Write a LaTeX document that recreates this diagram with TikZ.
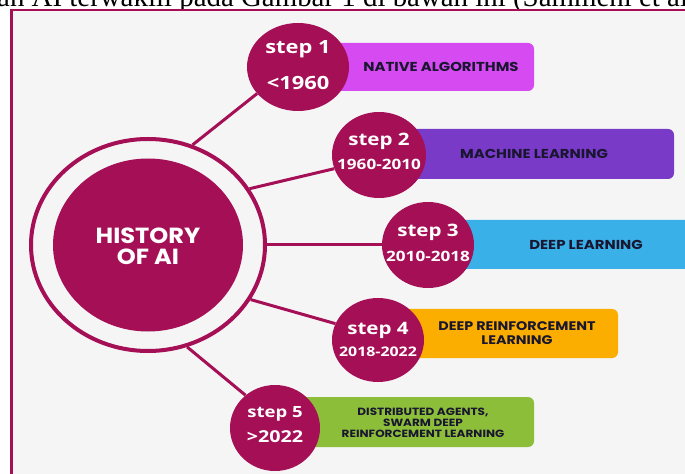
\documentclass[tikz,border=0pt]{standalone}
\usepackage{fontspec}
\setmainfont{Liberation Serif}
\newfontfamily\popfont[FakeStretch=1.15]{Poppins}
\newfontfamily\hubfont[FakeStretch=1.1]{Poppins}
\newfontfamily\stepfont[FakeStretch=1.2]{Open Sans}
\usetikzlibrary{shapes.geometric}

\definecolor{plum}{RGB}{165,15,85}
\definecolor{paper}{RGB}{245,245,246}
\definecolor{ink}{RGB}{25,22,48}
\definecolor{violetbox}{RGB}{214,74,242}
\definecolor{purplebox}{RGB}{122,58,200}
\definecolor{bluebox}{RGB}{58,176,232}
\definecolor{orangebox}{RGB}{252,174,0}
\definecolor{greenbox}{RGB}{140,190,58}

\tikzset{
  stepdisc/.style={ellipse, fill=plum, inner sep=0pt, minimum width=#1},
  stepword/.style={text=white, font=\stepfont\bfseries\fontsize{#1}{#1}\selectfont, inner sep=0pt},
  stepword/.default=17,
  eraband/.style={fill=#1, rounded corners=6bp},
  eralabel/.style={text=ink, font=\popfont\bfseries\fontsize{13}{13}\selectfont, align=center, inner sep=0pt},
  spoke/.style={draw=plum, line width=3bp},
}

\begin{document}
\begin{tikzpicture}[x=1bp, y=-1bp]
\useasboundingbox (0,0) rectangle (685,474);
\clip (0,0) rectangle (685,474);

% running text of the page above the figure
\node[anchor=base west, inner sep=0pt, font=\fontsize{29}{29}\selectfont] (caption) at (-3,6.5)
  {an AI terwakili pada Gambar 1 di bawah ini (Sammeni et al.};

% panel and its frame
\fill[paper] (12,11) rectangle (690,480);
\draw[plum, line width=3.5bp] (11.5,10) -- (11.5,480);
\draw[plum, line width=2bp] (10,10.5) -- (690,10.5);

% coloured bands behind the step discs
\fill[eraband=violetbox] (330,43) rectangle (534,91);
\fill[eraband=purplebox] (400,129) rectangle (674,179);
\fill[eraband=bluebox] (450,220) rectangle (700,269);
\fill[eraband=orangebox] (400,309) rectangle (618,358);
\fill[eraband=greenbox] (300,397) rectangle (534,447);

\node[eralabel] (l1) at (441,67) {NATIVE ALGORITHMS};
\node[eralabel] (l2) at (534,154) {MACHINE LEARNING};
\node[eralabel] (l3) at (586,245) {DEEP LEARNING};
\node[eralabel, font=\popfont\bfseries\fontsize{12.5}{14}\selectfont] (l4) at (517,333)
  {DEEP REINFORCEMENT\\LEARNING};
\node[eralabel, font=\popfont\bfseries\fontsize{10.5}{11}\selectfont] (l5) at (423,423)
  {DISTRIBUTED AGENTS,\\SWARM DEEP\\REINFORCEMENT LEARNING};

% central hub
\node[ellipse, draw=plum, fill=paper, line width=4bp, minimum width=234bp, minimum height=212bp] (ring) at (148,245) {};
\node[ellipse, fill=plum, minimum width=190bp, minimum height=173bp] (hub) at (148,245) {};
\node[text=white, font=\hubfont\bfseries\fontsize{22}{21}\selectfont, align=center, inner sep=0pt] (hubtext) at (148,246.5)
  {HISTORY\\OF AI};

% step discs
\node[stepdisc=102bp, minimum height=88bp] (s1) at (298,67) {};
\node[stepdisc=94bp, minimum height=86bp] (s2) at (379,155) {};
\node[stepdisc=92bp, minimum height=86bp] (s3) at (428,245) {};
\node[stepdisc=92bp, minimum height=84bp] (s4) at (378,340) {};
\node[stepdisc=90bp, minimum height=86bp] (s5) at (275,428) {};

% spokes from the hub ring to each step disc
\draw[spoke] (ring.66) -- (s1.213);
\draw[spoke] (ring.29) -- (s2.197);
\draw[spoke] (ring.0) -- (s3.180);
\draw[spoke] (ring.332) -- (s4.159);
\draw[spoke] (ring.291) -- (s5.132);

% step captions
\node[stepword=18.3] (w1) at (298,49) {step 1};
\node[stepword=18.3] (y1) at (298,83) {<1960};
\node[stepword=17.2] (w2) at (379,141) {step 2};
\node[stepword=14.3] (y2) at (379,164) {1960-2010};
\node[stepword=17.2] (w3) at (428,232) {step 3};
\node[stepword=14.3] (y3) at (428,256) {2010-2018};
\node[stepword=17.2] (w4) at (378,330) {step 4};
\node[stepword=13.3] (y4) at (378,352) {2018-2022};
\node[stepword=15.5] (w5) at (275,414) {step 5};
\node[stepword=16.5] (y5) at (275,437) {>2022};
\end{tikzpicture}
\end{document}
